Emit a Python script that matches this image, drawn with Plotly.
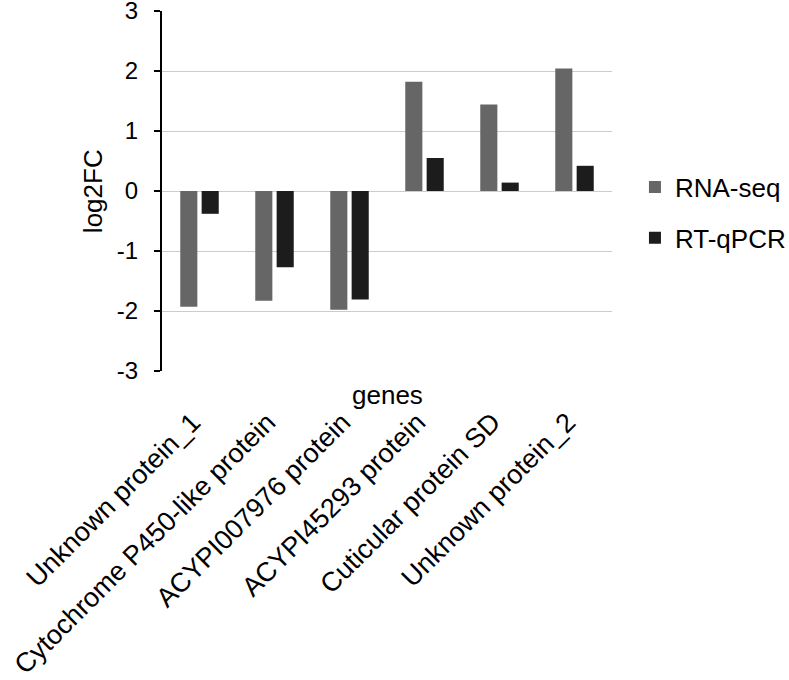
import plotly.graph_objects as go

genes = ["Unknown protein_1", "Cytochrome P450-like protein", "ACYPI007976 protein",
         "ACYPI45293 protein", "Cuticular protein SD", "Unknown protein_2"]
rna_seq = [-1.93, -1.83, -1.98, 1.82, 1.44, 2.04]
rt_qpcr = [-0.38, -1.27, -1.81, 0.55, 0.14, 0.42]
y_ticks = [-3, -2, -1, 0, 1, 2, 3]
y_tick_text = ["-3", "-2", "-1", "0", "1", "2", "3"]

FONT = "Liberation Sans, Arial, sans-serif"

fig = go.Figure()
fig.add_trace(go.Bar(x=genes, y=rna_seq, name="RNA-seq", marker_color="#666666",
                     marker_line_width=0, legendgroup="a"))
fig.add_trace(go.Bar(x=genes, y=rt_qpcr, name="RT-qPCR", marker_color="#1c1c1c",
                     marker_line_width=0, legendgroup="b"))

fig.update_layout(
    width=789, height=680,
    margin=dict(l=162, r=177, t=11, b=309, autoexpand=False),
    paper_bgcolor="white", plot_bgcolor="white",
    font=dict(family=FONT, size=26, color="black"),
    barmode="group", bargap=0.43, bargroupgap=0.2,
    showlegend=True,
    legend=dict(x=1.051, y=0.44, xanchor="left", yanchor="middle",
                font=dict(size=26), tracegroupgap=14, traceorder="grouped",
                itemwidth=30),
    xaxis=dict(tickangle=-45, showgrid=False, showline=False, ticks="",
               tickfont=dict(size=27), automargin=False, ticklabelstandoff=29,
               ticklabelshift=-7),
    yaxis=dict(range=[-3, 3], tickvals=y_ticks, ticktext=y_tick_text,
               showgrid=True, gridcolor="#cccccc",
               gridwidth=1, zeroline=True, zerolinecolor="#cccccc", zerolinewidth=1,
               showline=True, linecolor="black", linewidth=2,
               ticks="outside", ticklen=6, tickwidth=1.5, tickcolor="black",
               tickfont=dict(size=24), automargin=False, ticklabelstandoff=11,
               ticklabeloverflow="allow"),
    annotations=[
        dict(text="genes", xref="paper", yref="paper", x=0.5, y=-0.02,
             xanchor="center", yanchor="top", showarrow=False, font=dict(size=26)),
        dict(text="log2FC", xref="paper", yref="paper", x=-0.153, y=0.5,
             xanchor="center", yanchor="middle", textangle=-90, showarrow=False,
             font=dict(size=26)),
    ],
)

fig.write_html("out.html", config={"displayModeBar": False},
               post_script="document.body.style.margin='0';")
